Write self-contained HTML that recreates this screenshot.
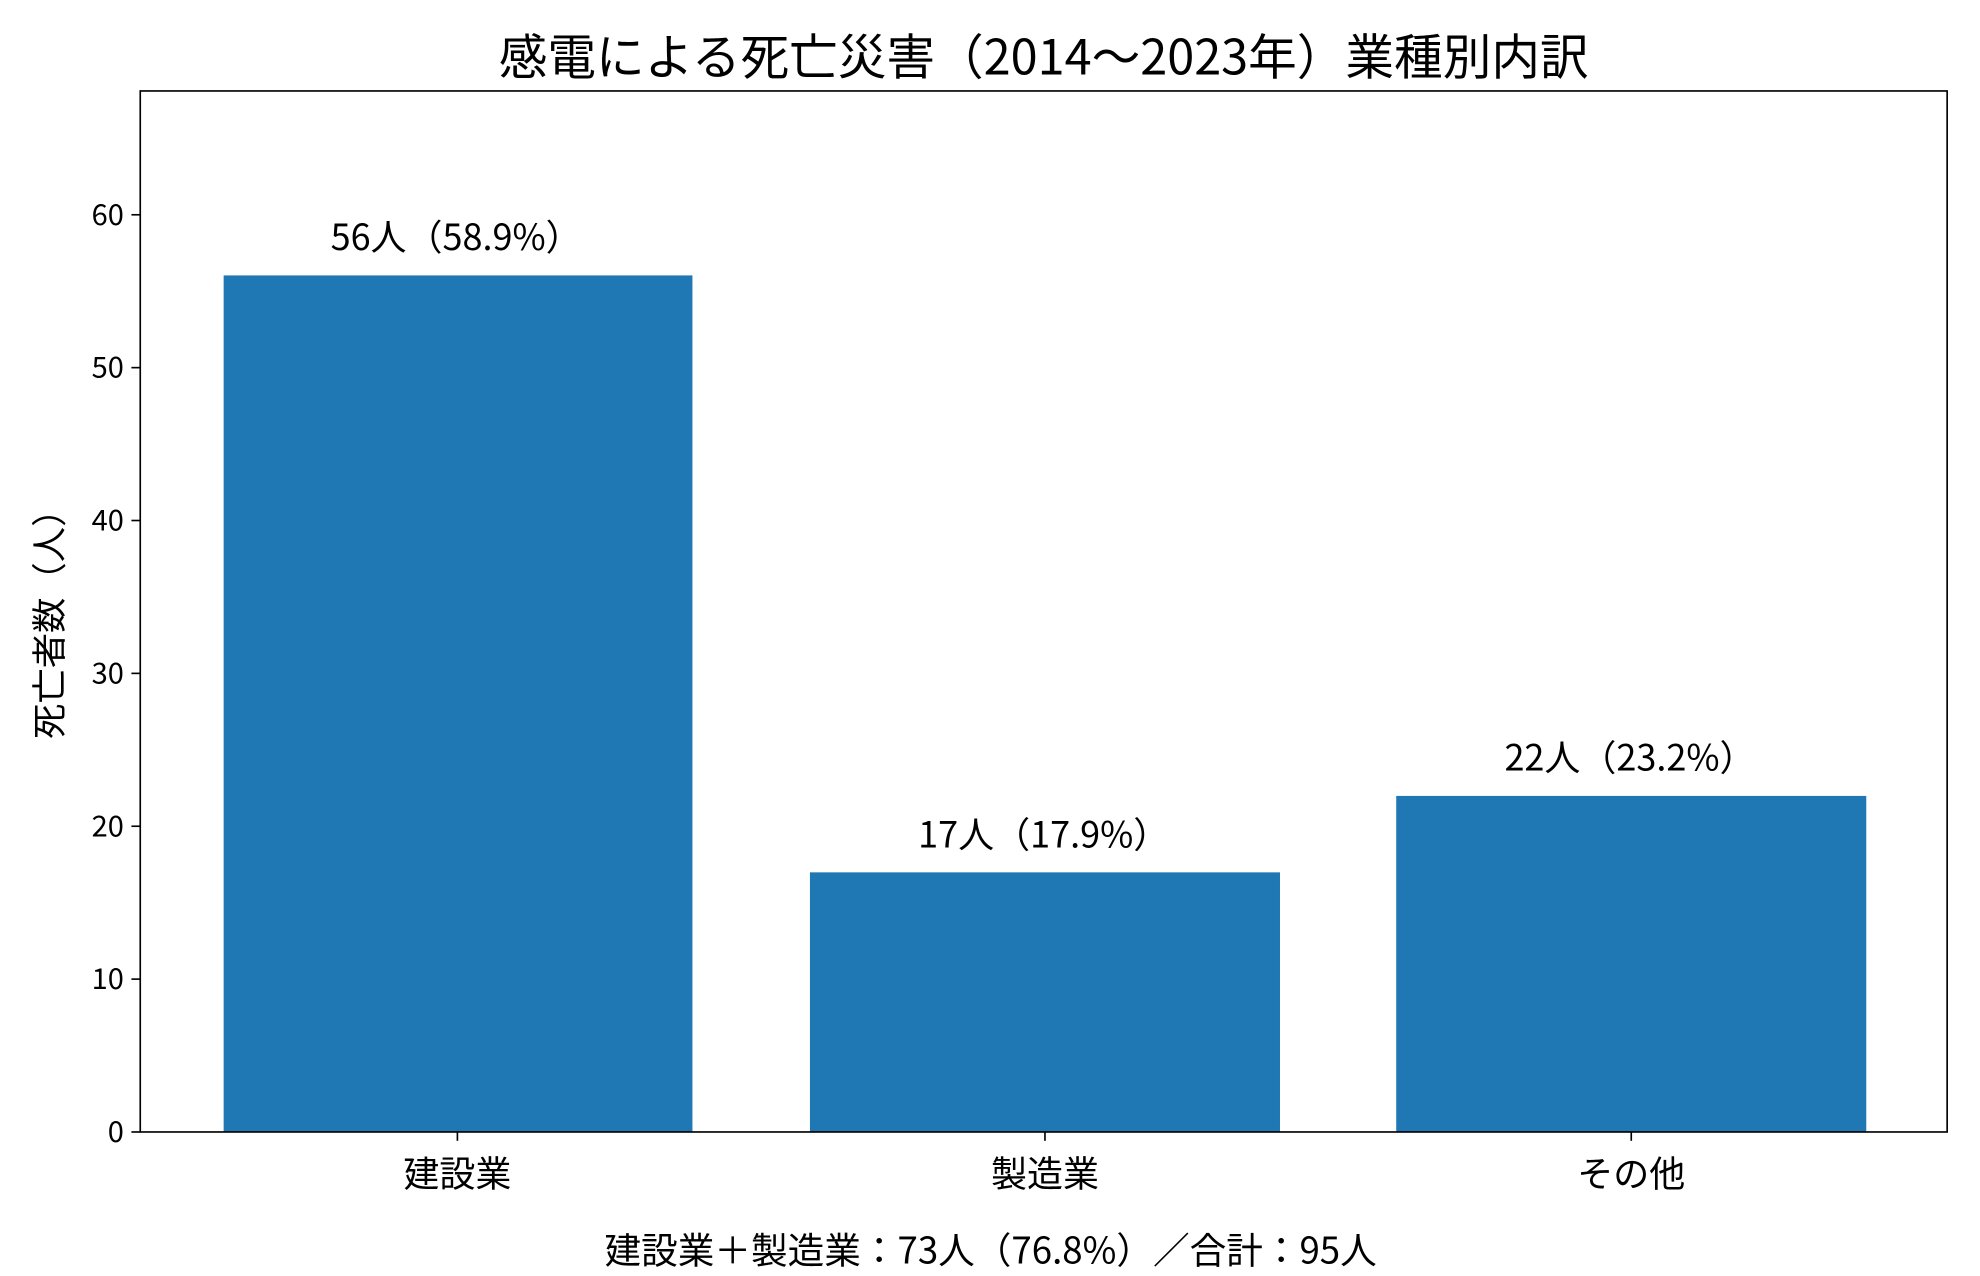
<!DOCTYPE html>
<html><head><meta charset="utf-8"><style>
html,body{margin:0;padding:0;background:#fff;}
svg{display:block;}
text{font-family:"Noto Sans CJK JP","Liberation Sans",sans-serif;fill:#000;}
</style></head><body>
<svg width="1980" height="1276" viewBox="0 0 1567 1010" preserveAspectRatio="none" xmlns="http://www.w3.org/2000/svg">
<rect width="1567" height="1010" fill="#fff"/>
<text x="826" y="59" font-size="38.5" text-anchor="middle">感電による死亡災害（2014～2023年）業種別内訳</text>
<g fill="#1f77b4">
<rect x="177" y="218" width="371" height="678"/>
<rect x="641" y="690.5" width="372" height="205.5"/>
<rect x="1105" y="630" width="372" height="266"/>
</g>
<rect x="111" y="72" width="1430" height="824" fill="none" stroke="#000" stroke-width="1.3"/>
<g stroke="#000" stroke-width="1.3">
<line x1="104" y1="896" x2="111" y2="896"/>
<line x1="104" y1="775" x2="111" y2="775"/>
<line x1="104" y1="654" x2="111" y2="654"/>
<line x1="104" y1="533" x2="111" y2="533"/>
<line x1="104" y1="412" x2="111" y2="412"/>
<line x1="104" y1="291" x2="111" y2="291"/>
<line x1="104" y1="170" x2="111" y2="170"/>
<line x1="362" y1="896" x2="362" y2="903"/>
<line x1="827" y1="896" x2="827" y2="903"/>
<line x1="1291" y1="896" x2="1291" y2="903"/>
</g>
<g font-size="23" text-anchor="end">
<text x="98" y="904">0</text>
<text x="98" y="783">10</text>
<text x="98" y="662">20</text>
<text x="98" y="541">30</text>
<text x="98" y="420">40</text>
<text x="98" y="299">50</text>
<text x="98" y="178">60</text>
</g>
<g font-size="28.5" text-anchor="middle">
<text x="362" y="939">建設業</text>
<text x="827" y="939">製造業</text>
<text x="1291" y="939">その他</text>
</g>
<text transform="translate(49,487) rotate(-90)" font-size="28" text-anchor="middle">死亡者数（人）</text>
<g font-size="28.5" text-anchor="middle">
<text x="361" y="198">56人（58.9%）</text>
<text x="826" y="671">17人（17.9%）</text>
<text x="1290" y="610">22人（23.2%）</text>
</g>
<text x="784" y="1000" font-size="29" text-anchor="middle">建設業＋製造業：73人（76.8%）／合計：95人</text>
</svg>
</body></html>
